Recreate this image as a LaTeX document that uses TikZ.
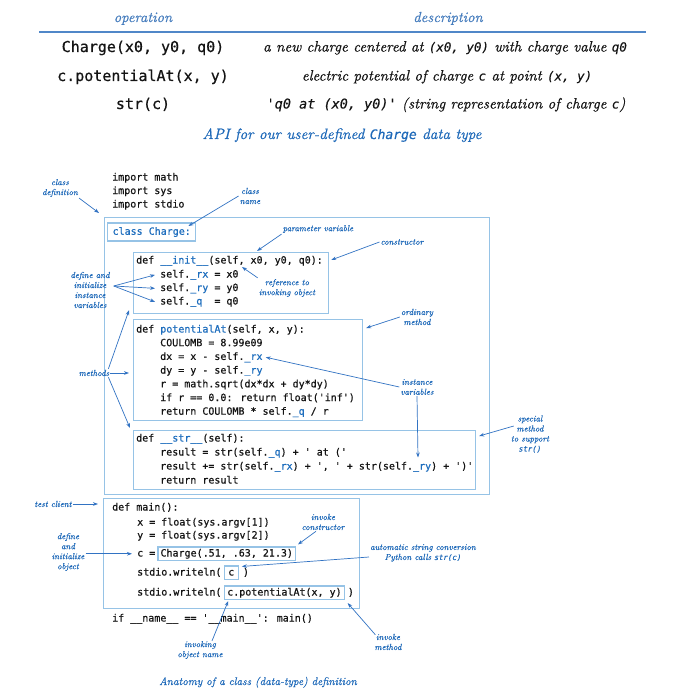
\documentclass[tikz,border=0pt]{standalone}
\usepackage{fontspec}
\newfontfamily\codefont[FakeBold=0.6]{DejaVu Sans Mono}
\newfontfamily\dcode[FakeBold=0.3]{DejaVu Sans Mono}
\newfontfamily\lblfont[Extension=.otf, UprightFont=lmroman10-regular, ItalicFont=lmroman10-italic, ItalicFeatures={FakeBold=0.5}]{lmroman10}
\usetikzlibrary{arrows.meta,calc}
\definecolor{lblue}{RGB}{30,105,185}
\definecolor{hblue}{RGB}{70,125,190}
\definecolor{boxblue}{RGB}{150,195,230}
\definecolor{ablue}{RGB}{50,115,195}
\definecolor{codeblue}{RGB}{30,110,190}
\definecolor{codeblack}{RGB}{20,20,20}
\definecolor{ruleblue}{RGB}{80,135,200}
\newcommand{\cb}[1]{\textcolor{codeblue}{#1}}
\newcommand{\tci}[1]{{\dcode\itshape\fontsize{12.5}{14}\selectfont #1}}
\newcommand{\tcu}[1]{{\dcode\fontsize{12.5}{14}\selectfont #1}}
\newcommand{\lci}[1]{{\dcode\itshape\fontsize{7.5}{9}\selectfont #1}}
\begin{document}
\begin{tikzpicture}[x=1pt,y=-1pt,
  code/.style={font=\codefont\fontsize{10}{12}\selectfont, text=codeblack, anchor=base west, inner sep=0pt},
  tcode/.style={font=\codefont\fontsize{15}{18}\selectfont, text=codeblack, anchor=base, inner sep=0pt},
  hdr/.style={font=\lblfont\itshape\fontsize{14.5}{16}\selectfont, text=hblue, anchor=base, inner sep=0pt},
  tdesc/.style={font=\lblfont\itshape\fontsize{14.9}{16}\selectfont, text=codeblack, anchor=base, inner sep=0pt},
  captxt/.style={font=\lblfont\itshape\fontsize{15}{17}\selectfont, text=lblue, anchor=base, inner sep=0pt},
  lbl/.style={font=\lblfont\itshape\fontsize{8.7}{10}\selectfont, text=lblue, align=center, inner sep=1pt},
  region/.style={draw=boxblue, line width=1.2pt, inner sep=0pt, anchor=north west},
  cbox/.style={draw=boxblue, line width=1.1pt, font=\codefont\fontsize{10}{12}\selectfont, text=codeblack, anchor=base west, inner xsep=2.5pt, inner ysep=1.5pt, text height=8pt, text depth=2.5pt},
  arr/.style={draw=ablue, line width=0.7pt, -{Stealth[length=5pt,width=3.6pt]}},
  ]
\fill[white] (0,0) rectangle (683,695);
\useasboundingbox (0,0) rectangle (683,695);

% ---------- API table ----------
\node[hdr] (hop) at (143,22) {operation};
\node[hdr] (hdesc) at (448,22) {description};
\draw[ruleblue, line width=1.3pt] (39,32) -- (646,32);
\node[tcode] (r1o) at (143,52) {Charge(x0, y0, q0)};
\node[tcode] (r2o) at (143,81) {c.potentialAt(x, y)};
\node[tcode] (r3o) at (143,109) {str(c)};
\node[tdesc] (r1d) at (445,51.5) {a new charge centered at \tci{(x0,~y0)} with charge value \tci{q0}};
\node[tdesc] (r2d) at (447,80.5) {electric potential of charge \tcu{c} at point \tci{(x,~y)}};
\node[tdesc] (r3d) at (446,108.5) {{\dcode\fontsize{13.5}{16}\selectfont 'q0 at (x0,~y0)'} (string representation of charge \tcu{c})};
\node[captxt] (apicap) at (342,139) {API for our user-defined {\dcode\itshape\fontsize{13}{14}\selectfont Charge} data type};

% ---------- boxes ----------
\node[region, minimum width=385pt, minimum height=277pt] (classbox) at (104,217) {};
\node[draw=boxblue, line width=1.2pt, font=\codefont\fontsize{10}{12}\selectfont, text=codeblue, inner xsep=5pt, minimum height=18pt, anchor=west] (clsbox) at (107,232) {class Charge:};
\node[region, minimum width=195pt, minimum height=61pt] (initbox) at (133,252) {};
\node[region, minimum width=229pt, minimum height=101pt] (potbox) at (133,319) {};
\node[region, minimum width=342pt, minimum height=59pt] (strbox) at (133,430) {};
\node[region, minimum width=256pt, minimum height=110pt] (mainbox) at (103,498) {};

% ---------- code ----------
\node[code] (imp1) at (112,180.5) {import math};
\node[code] (imp2) at (112,194) {import sys};
\node[code] (imp3) at (112,207.5) {import stdio};

\node[code] (i0) at (136,263.5) {def \cb{\_\_init\_\_}(self, x0, y0, q0):};
\node[code] (i1) at (160,277.5) {self.\cb{\_rx} = x0};
\node[code] (i2) at (160,291) {self.\cb{\_ry} = y0};
\node[code] (i3) at (160,304.5) {self.\cb{\_q}\ \ = q0};

\node[code] (p0) at (136,332.5) {def \cb{potentialAt}(self, x, y):};
\node[code] (p1) at (160,346.2) {COULOMB = 8.99e09};
\node[code] (p2) at (160,359.9) {dx = x - self.\cb{\_rx}};
\node[code] (p3) at (160,373.6) {dy = y - self.\cb{\_ry}};
\node[code] (p4) at (160,387.3) {r = math.sqrt(dx*dx + dy*dy)};
\node[code] (p5) at (160,401) {if r == 0.0: return float('inf')};
\node[code] (p6) at (160,414.7) {return COULOMB * self.\cb{\_q} / r};

\node[code] (s0) at (136,441.5) {def \cb{\_\_str\_\_}(self):};
\node[code] (s1) at (160,455.5) {result = str(self.\cb{\_q}) + ' at ('};
\node[code] (s2) at (160,469.5) {result += str(self.\cb{\_rx}) + ', ' + str(self.\cb{\_ry}) + ')'};
\node[code] (s3) at (160,483.5) {return result};

\node[code] (m0) at (112,510.5) {def main():};
\node[code] (m1) at (137,525.5) {x = float(sys.argv[1])};
\node[code] (m2) at (137,538.5) {y = float(sys.argv[2])};
\node[code] (ceq) at (137,556.5) {c =};
\node[cbox] (chg) at ($(ceq.base east)+(2,0)$) {Charge(.51, .63, 21.3)};
\node[code] (w1) at (137,575.5) {stdio.writeln(};
\node[cbox, minimum width=14pt] (cvar) at ($(w1.base east)+(2,0)$) {c};
\node[code] (w1e) at ($(cvar.base east)+(4,0)$) {)};
\node[code] (w2) at (137,595.5) {stdio.writeln(};
\node[cbox] (pcall) at ($(w2.base east)+(2.5,0)$) {c.potentialAt(x, y)};
\node[code] (w2e) at ($(pcall.base east)+(3,0)$) {)};
\node[code] (ifm) at (112,621.5) {if \_\_name\_\_ == '\_\_main\_\_': main()};

% ---------- labels ----------
\node[lbl] (classdef) at (60,188) {class\\definition};
\node[lbl] (classname) at (250,196) {class\\name};
\node[lbl] (paramvar) at (318,229) {parameter variable};
\node[lbl] (constr) at (402,242) {constructor};
\node[lbl] (definit) at (90,290) {define and\\initialize\\instance\\variables};
\node[lbl] (refinv) at (287,288) {reference to\\invoking object};
\node[lbl] (ordm) at (417,317) {ordinary\\method};
\node[lbl] (instv) at (417,387) {instance\\variables};
\node[lbl] (special) at (530,434) {special\\method\\to support\\\lci{str()}};
\node[lbl] (methods) at (94,373) {methods};
\node[lbl] (testc) at (53,504) {test client};
\node[lbl] (invcons) at (323,522) {invoke\\constructor};
\node[lbl] (defobj) at (68,552) {define\\and\\initialize\\object};
\node[lbl] (autostr) at (423,553) {automatic string conversion\\Python calls \lci{str(c)}};
\node[lbl] (invmeth) at (388,642) {invoke\\method};
\node[lbl] (invobj) at (200,650) {invoking\\object name};
\node[font=\lblfont\itshape\fontsize{11}{13}\selectfont, text=lblue, anchor=base, inner sep=0pt] (anat) at (258,685) {Anatomy of a class (data-type) definition};

% ---------- connectors ----------
\draw[arr] (classdef.south east) -- ($(classbox.north west)+(-5,-4)$);
\draw[arr] (classname.west) -- ($(clsbox.east)+(-8,-6)$);
\draw[arr] (paramvar.south west) -- ($(initbox.north west)+(124,-1)$);
\draw[arr] (constr.west) -- ($(initbox.north east)+(2,8)$);
\draw[arr] ($(definit.east)+(3,-4)$) -- ($(i1.west)+(-5,0)$);
\draw[arr] ($(definit.east)+(3,-4)$) -- ($(i2.west)+(-5,0)$);
\draw[arr] ($(definit.east)+(3,-4)$) -- ($(i3.west)+(-5,0)$);
\draw[arr] (refinv.north west) -- ($(i0.base west)+(106,3.5)$);
\draw[arr] (ordm.west) -- ($(potbox.north east)+(3,9)$);
\draw[arr] (instv.west) -- ($(p2.east)+(3,0)$);
\draw[arr] (instv.south) -- ($(s2.base west)+(258,-12)$);
\draw[arr] ($(special.west)+(4,-8)$) -- ($(strbox.north east)+(3,6)$);
\draw[arr, shorten >=4pt] (methods.east) -- (methods.east -| potbox.west);
\draw[arr] ($(methods.north east)+(-2,0)$) -- ($(initbox.south west)+(-4,-4)$);
\draw[arr] ($(methods.south east)+(-2,0)$) -- ($(strbox.north west)+(-3,-2)$);
\draw[arr, shorten >=5pt] (testc.east) -- (testc.east -| mainbox.west);
\draw[arr, shorten >=5pt] (defobj.east |- ceq.west) -- (ceq.west);
\draw[arr] ($(invcons.south)+(-7,0)$) -- ($(chg.north east)+(2,-2)$);
\draw[arr] ($(autostr.west)+(0,4)$) -- ($(cvar.north east)+(3,1)$);
\draw[arr] ($(invmeth.north west)+(2,2)$) -- ($(pcall.south east)+(3,3)$);
\draw[arr] ($(invobj.north)+(12,1)$) -- ($(pcall.south west)+(4,1)$);
\end{tikzpicture}
\end{document}
